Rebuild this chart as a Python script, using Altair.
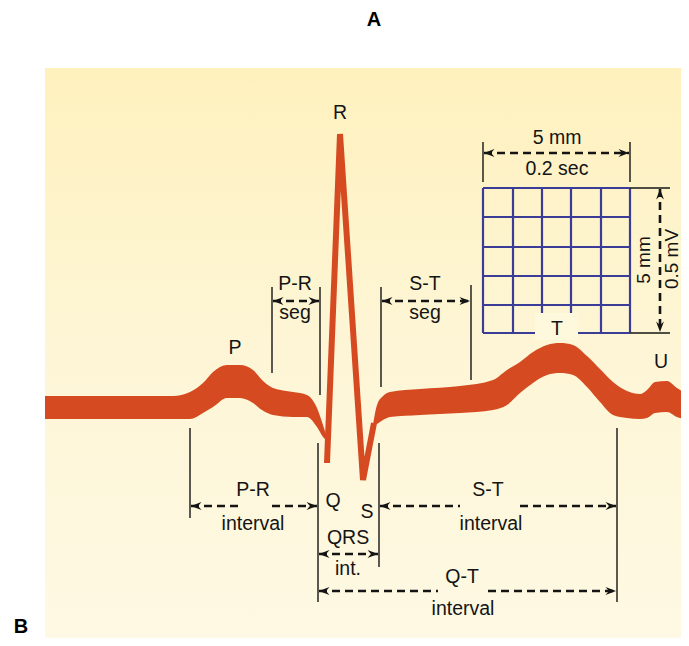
import altair as alt
import pandas as pd

# ---------------- data (reference pixel units) ----------------
BG_X = [45, 689]
BG_Y = [68, 646]

# ECG band (upper / lower edge) before QRS
PQ_X = [45, 173, 190, 203, 213, 227, 240, 253, 262, 273, 293, 307, 317, 323, 327]
PQ_TOP = [396, 396, 392, 383, 372, 365, 365, 370, 380, 388, 392, 395, 408, 425, 438]
PQ_BOT = [419, 419, 419, 413, 407, 398, 398, 403, 410, 415, 417, 417, 427, 437, 441]

# ECG band after QRS (ST, T, U)
ST_X = [373, 377, 383, 390, 420, 460, 493, 507, 520, 533, 547, 560, 573, 587, 600, 613, 627, 640, 647, 655, 667, 677, 689]
ST_TOP = [425, 405, 396, 392, 389, 386, 380, 370, 362, 352, 345, 343, 345, 356, 369, 382, 391, 394, 390, 382, 381, 388, 395]
ST_BOT = [426, 424, 420, 417, 415, 413, 410, 405, 393, 383, 375, 373, 375, 387, 402, 415, 418, 419, 418, 413, 412, 417, 420]

# QRS spike
QRS_X = [327, 340, 363, 374]
QRS_Y = [463, 134, 480, 423]

# calibration grid
GRID_XS = [483, 513, 542, 571, 601, 630]
GRID_YS = [188, 217, 247, 276, 305, 333]
TBOX = [535, 578, 313, 340]

# solid black guide lines (x1, y1, x2, y2)
GUIDES = [
    (272, 287, 272, 373), (320, 287, 320, 395), (381, 287, 381, 387), (471, 285, 471, 380),
    (190, 428, 190, 518), (318, 443, 318, 602), (379, 443, 379, 567), (617, 428, 617, 602),
    (483, 142, 483, 182), (630, 142, 630, 182), (630, 188, 670, 188), (630, 333, 670, 333),
]

# dashed measurement lines (x1, y1, x2, y2)
DASHES = [
    (273, 301, 319, 301), (382, 301, 470, 301), (484, 153, 629, 153), (660, 189, 660, 332),
    (191, 506, 238, 506), (272, 506, 317, 506),
    (380, 506, 460, 506), (520, 506, 616, 506),
    (319, 554, 378, 554),
    (319, 591, 438, 591), (488, 591, 616, 591),
]

# arrow tips (x, y, angle)
ARROWS = [
    (273, 301, 180), (319, 301, 0), (382, 301, 180), (470, 301, 0),
    (484, 153, 180), (629, 153, 0), (660, 189, 270), (660, 332, 90),
    (191, 506, 180), (317, 506, 0), (380, 506, 180), (616, 506, 0),
    (319, 554, 180), (378, 554, 0), (319, 591, 180), (616, 591, 0),
]

# labels (text, x, baseline y)
LABELS = [
    ("R", 340, 119), ("P", 235, 354), ("T", 557, 335), ("U", 661, 368),
    ("5 mm", 557, 144), ("0.2 sec", 557, 175),
    ("P-R", 295, 290), ("seg", 295, 319), ("S-T", 425, 290), ("seg", 425, 319),
    ("P-R", 253, 496), ("interval", 253, 530),
    ("Q", 333, 507), ("S", 367, 518),
    ("S-T", 488, 496), ("interval", 491, 530),
    ("QRS", 348, 544), ("int.", 348, 575),
    ("Q-T", 462, 583), ("interval", 463, 615),
]
VLABELS = [("5 mm", 644, 260), ("0.5 mV", 672, 259)]

# panel letters (text, x, baseline y)
LETTERS = [("A", 374, 26), ("B", 21, 633)]

# ---------------- tables ----------------
bg_df = pd.DataFrame({"x": [BG_X[0]], "x2": [BG_X[1]], "y": [BG_Y[0]], "y2": [BG_Y[1]]})
band_df = pd.concat([
    pd.DataFrame({"seg": "pq", "x": PQ_X, "top": PQ_TOP, "bot": PQ_BOT}),
    pd.DataFrame({"seg": "st", "x": ST_X, "top": ST_TOP, "bot": ST_BOT}),
])
qrs_df = pd.DataFrame({"i": range(len(QRS_X)), "x": QRS_X, "y": QRS_Y})
grid_df = pd.DataFrame(
    [{"x": gx, "x2": gx, "y": GRID_YS[0], "y2": GRID_YS[-1]} for gx in GRID_XS]
    + [{"x": GRID_XS[0], "x2": GRID_XS[-1], "y": gy, "y2": gy} for gy in GRID_YS]
)
tbox_df = pd.DataFrame({"x": [TBOX[0]], "x2": [TBOX[1]], "y": [TBOX[2]], "y2": [TBOX[3]]})
guide_df = pd.DataFrame(GUIDES, columns=["x", "y", "x2", "y2"])
dash_df = pd.DataFrame(DASHES, columns=["x", "y", "x2", "y2"])
arrow_df = pd.DataFrame(ARROWS, columns=["x", "y", "ang"])
label_df = pd.DataFrame(LABELS, columns=["label", "x", "y"])
vlabel_df = pd.DataFrame(VLABELS, columns=["label", "x", "y"])
title_df = pd.DataFrame(LETTERS, columns=["label", "x", "y"])

# ---------------- scales ----------------
XS = alt.Scale(domain=[8, 681], nice=False, zero=False)
YS = alt.Scale(domain=[8, 638], nice=False, zero=False, reverse=True)
X = alt.X("x:Q", scale=XS, axis=None)
Y = alt.Y("y:Q", scale=YS, axis=None)
X2 = alt.X2("x2:Q")
Y2 = alt.Y2("y2:Q")

RED = "#D64A22"
INK = "#141414"
FONT = "Liberation Sans"

gradient = alt.LinearGradient(
    gradient="linear", x1=0, x2=0, y1=0, y2=1,
    stops=[alt.GradientStop(offset=0, color="#FFF1BE"),
           alt.GradientStop(offset=0.45, color="#FDF5D4"),
           alt.GradientStop(offset=1, color="#FEF9E4")],
)

bg = alt.Chart(bg_df).mark_rect(fill=gradient).encode(x=X, x2=X2, y=Y, y2=Y2)
grid = alt.Chart(grid_df).mark_rule(color="#3B3B98", strokeWidth=2.2).encode(x=X, x2=X2, y=Y, y2=Y2)
tbox = alt.Chart(tbox_df).mark_rect(fill="#FEF8DD").encode(x=X, x2=X2, y=Y, y2=Y2)
guides = alt.Chart(guide_df).mark_rule(color=INK, strokeWidth=1.4).encode(x=X, x2=X2, y=Y, y2=Y2)
band = alt.Chart(band_df).mark_area(color=RED, interpolate="monotone", opacity=1).encode(
    x=X, y=alt.Y("top:Q", scale=YS, axis=None), y2=alt.Y2("bot:Q"), detail="seg:N")
qrs = alt.Chart(qrs_df).mark_line(color=RED, strokeWidth=6, strokeJoin="bevel", strokeCap="butt").encode(
    x=X, y=Y, order="i:Q")
dashes = alt.Chart(dash_df).mark_rule(color=INK, strokeWidth=2.6, strokeDash=[8, 5]).encode(
    x=X, x2=X2, y=Y, y2=Y2)
arrows = alt.Chart(arrow_df).mark_point(
    shape="M 0 0 L -2 -0.75 L -1.35 0 L -2 0.75 Z", filled=True, size=110, color=INK, opacity=1
).encode(x=X, y=Y, angle=alt.Angle("ang:Q", scale=None))
labels = alt.Chart(label_df).mark_text(
    font=FONT, fontSize=19.5, color=INK, baseline="alphabetic", align="center"
).encode(x=X, y=Y, text="label:N")
vlabels = alt.Chart(vlabel_df).mark_text(
    font=FONT, fontSize=19, color=INK, baseline="middle", align="center", angle=270
).encode(x=X, y=Y, text="label:N")
titles = alt.Chart(title_df).mark_text(
    font="Liberation Sans Narrow, Liberation Sans, sans-serif", fontWeight="bold", fontSize=20,
    color="#000000", baseline="alphabetic", align="center"
).encode(x=X, y=Y, text="label:N")

chart = alt.layer(bg, grid, tbox, guides, band, qrs, dashes, arrows, labels, vlabels, titles).properties(
    width=673, height=630, padding=0, background="#FFFFFF",
    autosize=alt.AutoSizeParams(type="none"),
).configure_view(stroke=None)

chart.save("out.html", embed_options={"renderer": "svg", "actions": False})
